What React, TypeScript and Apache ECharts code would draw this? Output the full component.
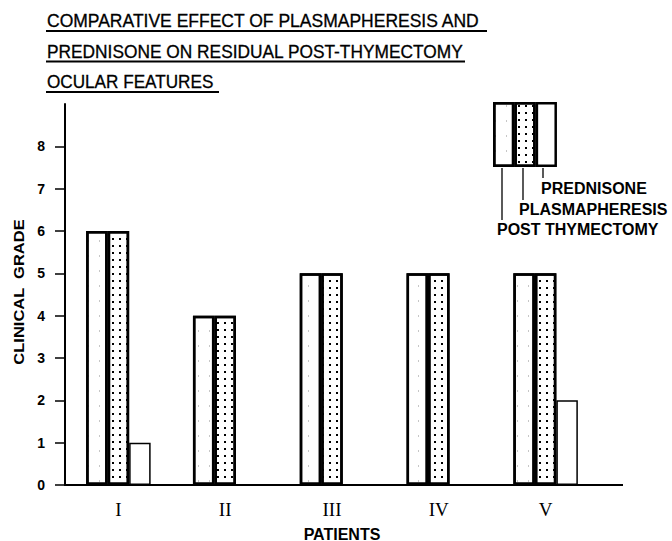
import React, { useEffect, useRef } from "react";
import * as echarts from "echarts";

const patients = ["I", "II", "III", "IV", "V"];
const postThymectomy = [6, 4, 5, 5, 5];
const plasmapheresis = [6, 4, 5, 5, 5];
const prednisone = [1, 0, 0, 0, 2];
const gradeTicks = [0, 1, 2, 3, 4, 5, 6, 7, 8];
const seriesNames = ["POST THYMECTOMY", "PLASMAPHERESIS", "PREDNISONE"];
const titleLines = [
  "COMPARATIVE EFFECT OF PLASMAPHERESIS AND",
  "PREDNISONE ON RESIDUAL POST-THYMECTOMY",
  "OCULAR FEATURES",
];
const legendKey = [1];

const SANS = "'Liberation Sans', Arial, sans-serif";
const SERIF = "'Liberation Serif', 'Times New Roman', serif";

const faintDecal = {
  symbol: "rect",
  symbolSize: 1,
  color: "rgba(0,0,0,0.22)",
  dashArrayX: [1, 10],
  dashArrayY: [1.5, 13],
  rotation: 0,
};
const dotDecal = {
  symbol: "rect",
  symbolSize: 1,
  color: "#000",
  dashArrayX: [1.6, 5],
  dashArrayY: [1.6, 5],
  rotation: 0,
};

export default function App() {
  const ref = useRef<HTMLDivElement>(null);
  useEffect(() => {
    if (!ref.current) return;
    const chart = echarts.init(ref.current, null, { renderer: "svg" });
    const titleY = [21, 51.5, 81.5];
    const titleScale = [1.0, 0.99, 0.98];
    const underline = [
      { y: 31, x2: 487 },
      { y: 61.5, x2: 465 },
      { y: 92, x2: 219 },
    ];
    const graphic: any[] = [];
    titleLines.forEach((t, i) => {
      graphic.push({
        type: "text",
        x: 47,
        y: titleY[i],
        scaleX: titleScale[i],
        style: {
          text: t,
          fontFamily: SANS,
          fontSize: 17.5,
          fill: "#000",
          stroke: "#000",
          lineWidth: 0.3,
          textAlign: "left",
          textVerticalAlign: "middle",
        },
      });
      graphic.push({
        type: "line",
        shape: { x1: 46, y1: underline[i].y, x2: underline[i].x2, y2: underline[i].y },
        style: { stroke: "#000", lineWidth: 1.8 },
      });
    });
    // x-axis line extension
    graphic.push({ type: "line", shape: { x1: 599, y1: 485, x2: 623, y2: 485 }, style: { stroke: "#000", lineWidth: 2 } });
    // legend leader lines and labels
    const leaders = [
      { x: 502, y2: 220, tx: 497, ty: 229 },
      { x: 523, y2: 200, tx: 519, ty: 209 },
      { x: 543, y2: 178, tx: 541, ty: 188 },
    ];
    leaders.forEach((l, i) => {
      graphic.push({ type: "line", shape: { x1: l.x, y1: 168, x2: l.x, y2: l.y2 }, style: { stroke: "#000", lineWidth: 1.3 } });
      graphic.push({
        type: "text",
        x: l.tx,
        y: l.ty,
        style: { text: seriesNames[i], fontFamily: SANS, fontWeight: "bold", fontSize: 16, fill: "#000", textAlign: "left", textVerticalAlign: "middle" },
      });
    });
    graphic.push({
      type: "text",
      x: 19,
      y: 292,
      rotation: Math.PI / 2,
      scaleX: 1.1,
      style: { text: "CLINICAL  GRADE", fontFamily: SANS, fontWeight: "bold", fontSize: 15, fill: "#000", textAlign: "center", textVerticalAlign: "middle" },
    });
    graphic.push({
      type: "text",
      x: 342,
      y: 534,
      style: { text: "PATIENTS", fontFamily: SANS, fontWeight: "bold", fontSize: 16, fill: "#000", textAlign: "center", textVerticalAlign: "middle" },
    });

    const barBase = { type: "bar", barWidth: 21.5, barGap: "0%", silent: true };
    const legBase = { type: "bar", xAxisIndex: 1, yAxisIndex: 1, barWidth: 21.3, barGap: "0%", silent: true };
    chart.setOption({
      animation: false,
      backgroundColor: "#fff",
      grid: [
        { left: 65, right: 73, top: 104, bottom: 56 },
        { left: 493, top: 102, width: 64, height: 65 },
      ],
      xAxis: [
        {
          type: "category",
          gridIndex: 0,
          data: patients,
          axisLine: { lineStyle: { color: "#000", width: 2 } },
          axisTick: { show: false },
          axisLabel: { fontFamily: SERIF, fontSize: 19, color: "#000", margin: 15 },
          splitLine: { show: false },
        },
        { type: "category", gridIndex: 1, data: [""], show: false },
      ],
      yAxis: [
        {
          type: "value",
          gridIndex: 0,
          min: 0,
          max: 9,
          interval: 1,
          axisLine: { show: true, lineStyle: { color: "#000", width: 2 } },
          axisTick: { show: true, length: 10, customValues: gradeTicks, lineStyle: { color: "#000", width: 1.5 } },
          axisLabel: { customValues: gradeTicks, fontFamily: SANS, fontWeight: "bold", fontSize: 14, color: "#000", margin: 20 },
          splitLine: { show: false },
        },
        { type: "value", gridIndex: 1, min: 0, max: 1, show: false },
      ],
      series: [
        { ...barBase, name: seriesNames[0], data: postThymectomy, itemStyle: { color: "#fff", borderColor: "#000", borderWidth: 2.5, decal: faintDecal } },
        { ...barBase, name: seriesNames[1], data: plasmapheresis, itemStyle: { color: "#fff", borderColor: "#000", borderWidth: 2.5, decal: dotDecal } },
        { ...barBase, name: seriesNames[2], data: prednisone, itemStyle: { color: "#fff", borderColor: "#000", borderWidth: 1.5 } },
        { ...legBase, name: seriesNames[0] + " key", data: legendKey, itemStyle: { color: "#fff", borderColor: "#000", borderWidth: 2.5, decal: faintDecal } },
        { ...legBase, name: seriesNames[1] + " key", data: legendKey, itemStyle: { color: "#fff", borderColor: "#000", borderWidth: 2.5, decal: dotDecal } },
        { ...legBase, name: seriesNames[2] + " key", data: legendKey, itemStyle: { color: "#fff", borderColor: "#000", borderWidth: 2.5 } },
      ],
      graphic,
    });
    return () => chart.dispose();
  }, []);
  return (
    <div
      ref={ref}
      style={{ position: "absolute", left: 0, top: 0, width: 672, height: 541, background: "#fff" }}
    />
  );
}
